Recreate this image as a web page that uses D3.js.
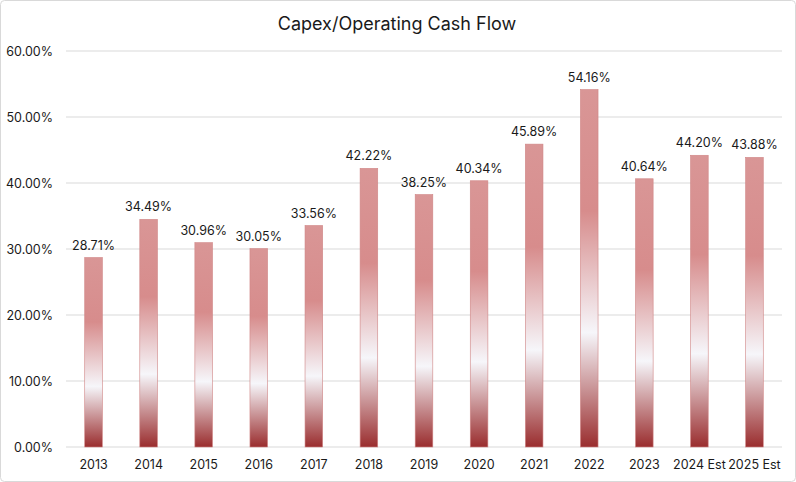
<!DOCTYPE html>
<html><head><meta charset="utf-8">
<script src="https://cdn.jsdelivr.net/npm/d3@7/dist/d3.min.js"></script>
<style>body{margin:0;background:#fff;font-family:Inter,"Noto Sans",sans-serif;}</style>
</head><body><div id="chart"></div>
<script>
const categories = ["2013","2014","2015","2016","2017","2018","2019","2020","2021","2022","2023","2024 Est","2025 Est"];
const values = [28.71,34.49,30.96,30.05,33.56,42.22,38.25,40.34,45.89,54.16,40.64,44.20,43.88];
const yTicks = [0,10,20,30,40,50,60];
const title = "Capex/Operating Cash Flow";

const W = 796, H = 482;
const m = {top:51, right:14, bottom:35, left:66};
const svg = d3.select("#chart").append("svg").attr("width",W).attr("height",H);

svg.append("rect").attr("x",0.5).attr("y",0.5).attr("width",W-1).attr("height",H-1)
  .attr("rx",4).attr("fill","#fff").attr("stroke","#d9d9d9");

const defs = svg.append("defs");
const grad = defs.append("linearGradient").attr("id","barGrad")
  .attr("x1",0).attr("y1",1).attr("x2",0).attr("y2",0);
[[0,"#9a2d2e"],[0.32,"#f6f6fa"],[0.66,"#d78c8c"],[1,"#d99696"]].forEach(([o,c])=>
  grad.append("stop").attr("offset",o).attr("stop-color",c));

const x = d3.scaleBand().domain(categories).range([m.left, W-m.right]).paddingInner(0.68).paddingOuter(0.34);
const y = d3.scaleLinear().domain([0,60]).range([H-m.bottom, m.top]);

// gridlines
svg.append("g").selectAll("line").data(yTicks).join("line")
  .attr("x1",m.left).attr("x2",W-m.right)
  .attr("y1",d=>y(d)).attr("y2",d=>y(d))
  .attr("stroke","#d9d9d9").attr("stroke-width",1);

// y axis labels
const yAxis = d3.axisLeft(y).tickValues(yTicks).tickFormat(d=>d.toFixed(2)+"%").tickSize(0).tickPadding(13);
const ya = svg.append("g").attr("transform",`translate(${m.left},0)`).call(yAxis);
ya.select(".domain").remove();
ya.selectAll("text").attr("font-size",12.5).attr("fill","#1a1a1a").attr("font-family","Inter,sans-serif");

// x axis labels
const xAxis = d3.axisBottom(x).tickSize(0).tickPadding(13);
const xa = svg.append("g").attr("transform",`translate(0,${H-m.bottom})`).call(xAxis);
xa.select(".domain").remove();
xa.selectAll("text").attr("font-size",12.5).attr("fill","#1a1a1a").attr("font-family","Inter,sans-serif");

// bars
svg.append("g").selectAll("rect").data(values).join("rect")
  .attr("x",(d,i)=>x(categories[i]))
  .attr("width",x.bandwidth())
  .attr("y",d=>y(d))
  .attr("height",d=>y(0)-y(d))
  .attr("fill","url(#barGrad)")
  .attr("stroke","#d08585").attr("stroke-width",0.6);

// value labels
svg.append("g").selectAll("text").data(values).join("text")
  .attr("x",(d,i)=>x(categories[i])+x.bandwidth()/2)
  .attr("y",d=>y(d)-8)
  .attr("text-anchor","middle")
  .attr("font-size",12.5).attr("fill","#1a1a1a")
  .text(d=>d.toFixed(2)+"%");

// title
svg.append("text").attr("x",W/2 - 1).attr("y",30).attr("text-anchor","middle")
  .attr("font-size",18).attr("fill","#1a1a1a").text(title);
</script></body></html>
